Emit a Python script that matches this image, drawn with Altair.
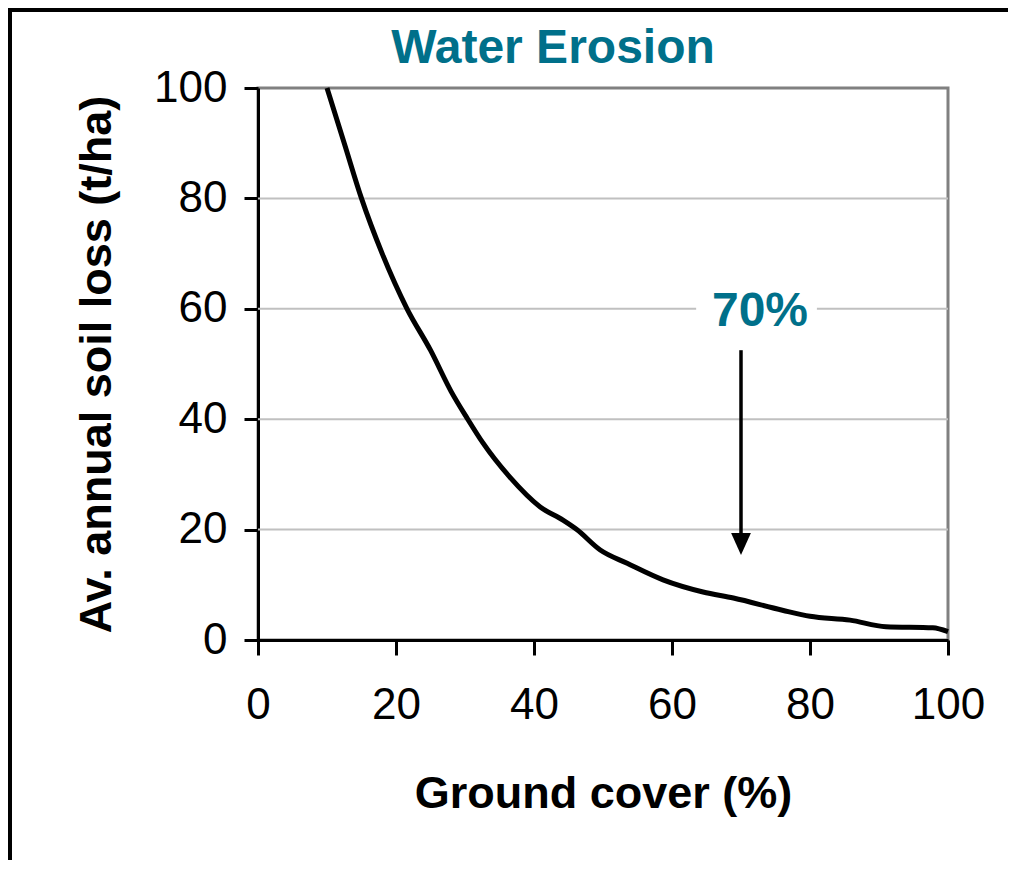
import altair as alt
import pandas as pd

# Curve (ground cover %, average annual soil loss t/ha)
cover = [10, 12.5, 15, 18, 21.6, 25, 28, 30.4, 32.6, 36.5, 40.9, 44.2, 46.2,
         49.6, 53.5, 58.7, 64.5, 68.9, 76, 80, 85.8, 91, 97.8, 100]
loss = [100, 90, 80, 70, 60, 52.5, 45, 40, 35.7, 29.5, 24.1, 21.7, 20,
        16.3, 13.9, 10.9, 8.7, 7.6, 5.4, 4.3, 3.6, 2.4, 2.2, 1.5]

tick_values = [0, 20, 40, 60, 80, 100]
grid_values = [20, 40, 60, 80]

# annotation
ann_text = ["70%"]
ann_x = [72.75]
ann_y = [59.4]
arrow_x = [70]
arrow_top = [52.5]
arrow_shaft_end = [19.0]
arrow_head_y = [17.4]
mask_x = [63.5]
mask_x2 = [81.0]
mask_y = [57.0]
mask_y2 = [62.5]

TITLE = "Water Erosion"
TEAL = "#00708A"
FONT = "Liberation Sans"

df = pd.DataFrame({"cover": cover, "loss": loss})
grid_df = pd.DataFrame({"g": grid_values})
ann_df = pd.DataFrame({
    "t": ann_text, "x": ann_x, "y": ann_y,
    "ax": arrow_x, "atop": arrow_top, "aend": arrow_shaft_end, "ahead": arrow_head_y,
    "mx": mask_x, "mx2": mask_x2, "my": mask_y, "my2": mask_y2,
})
one = pd.DataFrame({"title": [TITLE]})

xs = alt.Scale(domain=[0, 100], nice=False, zero=True)
ys = alt.Scale(domain=[0, 100], nice=False, zero=True)

x_axis = alt.Axis(title="Ground cover (%)", values=tick_values, grid=False,
                  labelFontSize=44, titleFontSize=45, titleFontWeight="bold",
                  labelPadding=28, titlePadding=44, tickSize=15,
                  labelFlush=False, labelOverlap=False)
y_axis = alt.Axis(title="Av. annual soil loss (t/ha)", values=tick_values, grid=False,
                  labelFontSize=44, titleFontSize=45, titleFontWeight="bold",
                  labelPadding=17, titlePadding=34, tickSize=14,
                  labelFlush=False, labelOverlap=False)

grid = alt.Chart(grid_df).mark_rule(color="#c0c0c0", strokeWidth=2).encode(
    y=alt.Y("g:Q", scale=ys, axis=y_axis)
)

mask = alt.Chart(ann_df).mark_rect(color="white").encode(
    x=alt.X("mx:Q", scale=xs, axis=x_axis), x2="mx2:Q",
    y=alt.Y("my:Q", scale=ys, axis=y_axis), y2="my2:Q",
)

curve = alt.Chart(df).mark_line(color="black", strokeWidth=5, interpolate="monotone").encode(
    x=alt.X("cover:Q", scale=xs, axis=x_axis),
    y=alt.Y("loss:Q", scale=ys, axis=y_axis),
)

label = alt.Chart(ann_df).mark_text(
    color=TEAL, fontSize=48, fontWeight="bold", font=FONT, baseline="middle", align="center"
).encode(
    x=alt.X("x:Q", scale=xs, axis=x_axis),
    y=alt.Y("y:Q", scale=ys, axis=y_axis),
    text="t:N",
)

shaft = alt.Chart(ann_df).mark_rule(color="black", strokeWidth=3.5).encode(
    x=alt.X("ax:Q", scale=xs, axis=x_axis),
    y=alt.Y("atop:Q", scale=ys, axis=y_axis), y2="aend:Q",
)

head = alt.Chart(ann_df).mark_point(
    shape="M-0.9,-1L0.9,-1L0,1Z", filled=True, color="black", size=484, opacity=1
).encode(
    x=alt.X("ax:Q", scale=xs, axis=x_axis),
    y=alt.Y("ahead:Q", scale=ys, axis=y_axis),
)

# chart title, drawn as text above the plot
title = alt.Chart(one).mark_text(
    color=TEAL, fontSize=48, fontWeight="bold", font=FONT, baseline="alphabetic", align="center"
).encode(x=alt.value(295), y=alt.value(-25), text="title:N")

# picture frame (top and left edges of the original image)
frame_top = alt.Chart(one).mark_rule(color="black", strokeWidth=4).encode(
    x=alt.value(-250), x2=alt.value(750), y=alt.value(-78)
)
frame_left = alt.Chart(one).mark_rule(color="black", strokeWidth=4).encode(
    x=alt.value(-248), y=alt.value(-80), y2=alt.value(780)
)

chart = alt.layer(grid, mask, curve, shaft, head, label, title, frame_top, frame_left).properties(
    width=690,
    height=552,
    padding={"left": 250, "top": 80, "right": 60, "bottom": 220},
    autosize=alt.AutoSizeParams(type="none"),
).configure(
    font=FONT,
).configure_view(
    stroke="#808080", strokeWidth=3,
).configure_axis(
    domainColor="black", domainWidth=3, tickColor="black", tickWidth=3,
    labelColor="black", titleColor="black", labelFont=FONT, titleFont=FONT,
)

chart.save("out.html", embed_options={"renderer": "svg", "actions": False})
